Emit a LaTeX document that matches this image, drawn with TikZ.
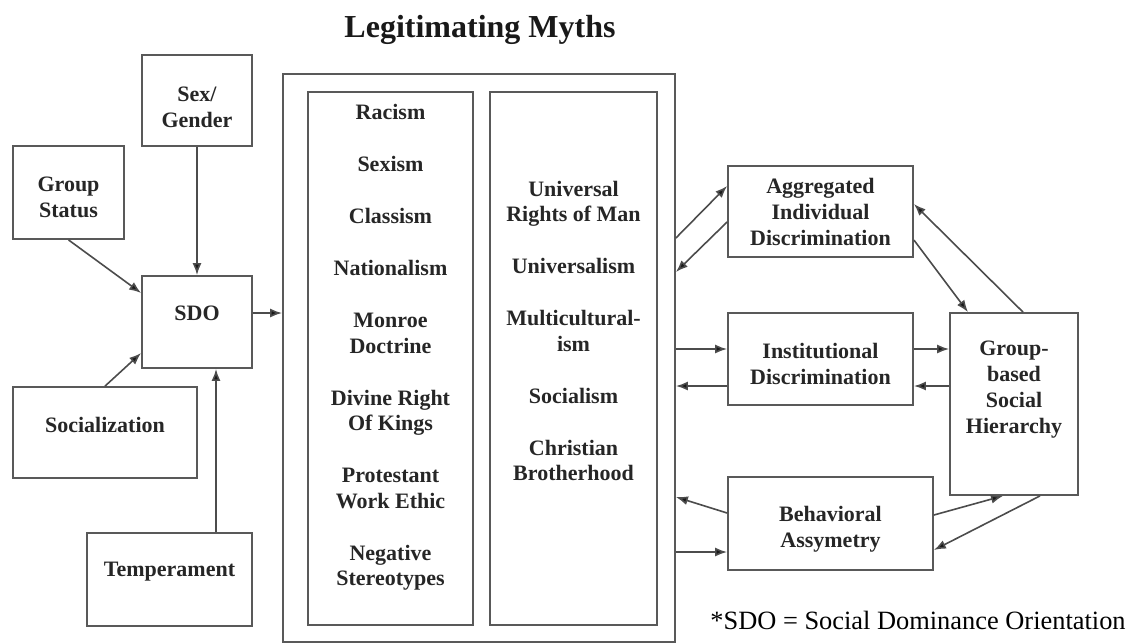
\documentclass[tikz,border=0pt]{standalone}
\usepackage{fontspec}
\setmainfont{Liberation Serif}
\usepackage{xcolor}
\usepackage{tikz}
\usetikzlibrary{arrows.meta,calc}
\newcommand{\riseto}[1]{\rule{0pt}{#1}}
\newcommand{\dropto}[1]{\rule[-#1]{0pt}{#1}}
\tikzset{
  box/.style={draw=black!65, line width=0.9pt, align=center, inner sep=0pt,
    text=black!85, font=\bfseries\fontsize{11}{13}\selectfont},
  mythlist/.style={align=center, text=black!85, font=\bfseries\fontsize{11}{12.75}\selectfont},
  link/.style={draw=black!70, line width=0.8pt, -{Latex[length=6pt,width=4.5pt,fill=black!90]}}
}

\begin{document}
\begin{tikzpicture}[x=0.5pt,y=-0.5pt]
    \useasboundingbox (0,0) rectangle (1133,643);
    \node[font=\bfseries\fontsize{16}{19}\selectfont, text=black!90] (title) at (480,30) {Legitimating Myths};
      \node[box, minimum width=55pt, minimum height=45.5pt] (sex) at (197,100.5) {\riseto{14.2pt}Sex/\\Gender};
      \node[box, minimum width=55.5pt, minimum height=46.5pt] (group) at (68.5,192.5) {\riseto{12.2pt}Group\\Status};
      \node[box, minimum width=55pt, minimum height=46pt] (sdo) at (197,322) {SDO\dropto{9pt}};
      \node[box, minimum width=92pt, minimum height=45.5pt] (soc) at (105,432.5) {Socialization\dropto{7.5pt}};
      \node[box, minimum width=82.5pt, minimum height=46.5pt] (temp) at (169.5,579.5) {Temperament\dropto{9.9pt}};
      \node[box, minimum width=196pt, minimum height=284pt] (myths) at (479,358) {};
      \node[box, minimum width=82.5pt, minimum height=266.5pt] (leftcol) at (390.5,358.5) {};
      \node[box, minimum width=83.5pt, minimum height=266.5pt] (rightcol) at (573.5,358.5) {};
      \node[mythlist] (leftlist) at (390.5,347.5) {Racism\\[13.25pt] Sexism\\[13.25pt] Classism\\[13.25pt]
        Nationalism\\[13.25pt] Monroe\\ Doctrine\\[13.25pt] Divine Right\\ Of Kings\\[13.25pt]
        Protestant\\ Work Ethic\\[13.25pt] Negative\\ Stereotypes};
      \node[mythlist] (rightlist) at (573.5,331) {Universal\\ Rights of Man\\[13.25pt] Universalism\\[13.25pt]
        Multicultural-\\ ism\\[13.25pt] Socialism\\[13.25pt] Christian\\ Brotherhood};
      \node[box, minimum width=92.5pt, minimum height=45.5pt] (agg) at (820.5,211.5) {Aggregated\\Individual\\Discrimination};
      \node[box, minimum width=92.5pt, minimum height=46pt] (inst) at (820.5,359) {\riseto{12.2pt}Institutional\\Discrimination};
      \node[box, minimum width=64pt, minimum height=91pt] (gsh) at (1014,404) {Group-\\based\\Social\\Hierarchy\dropto{16.4pt}};
      \node[box, minimum width=102.5pt, minimum height=46.5pt] (behav) at (830.5,523.5) {\riseto{13.7pt}Behavioral\\Assymetry};
      \node[font=\fontsize{13.2}{15}\selectfont] (note) at (918,620) {*SDO = Social Dominance Orientation};
      \draw[link] (group.south) -- ($(sdo.west)+(0,-29)$);
      \draw[link] (sex.south) -- (sdo.north);
      \draw[link] (soc.north) -- ($(sdo.west)+(0,31)$);
      \draw[link] ($(temp.north)+(46.5,0)$) coordinate (tempout) -- (tempout |- sdo.south);
      \draw[link] ($(sdo.east)+(0,-9)$) coordinate (sdoout) -- (sdoout -| myths.west);
      \draw[link] ($(myths.east)+(0,-120)$) -- ($(agg.west)+(0,-25.5)$);
      \draw[link] ($(agg.west)+(0,10.5)$) -- ($(myths.east)+(0,-86)$);
      \draw[link] ($(agg.east)+(0,28.5)$) -- ($(gsh.north)+(-46,0)$);
      \draw[link] ($(gsh.north)+(9,0)$) -- ($(agg.east)+(0,-7.5)$);
      \draw[link] ($(myths.east)+(0,-9)$) -- ($(inst.west)+(0,-10)$);
      \draw[link] ($(inst.west)+(0,27)$) -- ($(myths.east)+(0,28)$);
      \draw[link] ($(inst.east)+(0,-10)$) -- ($(gsh.west)+(0,-55)$);
      \draw[link] ($(gsh.west)+(0,-18)$) -- ($(inst.east)+(0,27)$);
      \draw[link] ($(behav.west)+(0,-10.5)$) -- ($(myths.east)+(0,139)$);
      \draw[link] ($(myths.east)+(0,194)$) -- ($(behav.west)+(0,28.5)$);
      \draw[link] ($(behav.east)+(0,-8.5)$) -- ($(gsh.south)+(-11,0)$);
      \draw[link] ($(gsh.south)+(26,0)$) -- ($(behav.east)+(0,26.5)$);
    \end{tikzpicture}
\end{document}
